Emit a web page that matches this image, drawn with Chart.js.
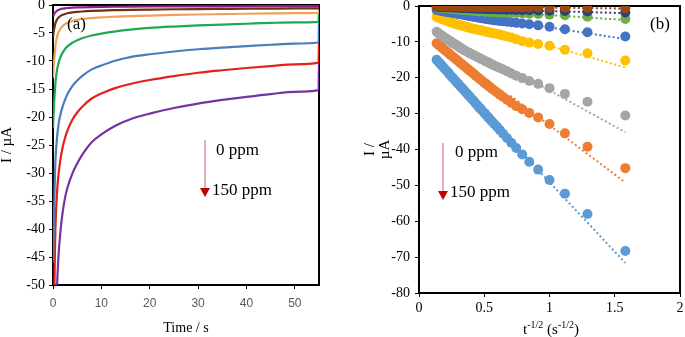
<!DOCTYPE html>
<html>
<head>
<meta charset="utf-8">
<script src="https://cdn.jsdelivr.net/npm/chart.js@4.4.1/dist/chart.umd.min.js"></script>
<style>
  html, body { margin: 0; padding: 0; background: #fff; }
  #wrap { position: relative; width: 685px; height: 337px; overflow: hidden; }
  canvas { position: absolute; top: 0; }
  #cA { left: 0; }
  #cB { left: 340px; }
</style>
</head>
<body>
<div id="wrap">
  <canvas id="cA" width="340" height="337"></canvas>
  <canvas id="cB" width="345" height="337"></canvas>
</div>
<script>
// ---- (a) corriente vs tiempo ----
const tA = [0.02, 0.1, 0.2, 0.3, 0.4, 0.5, 0.6, 0.8, 1, 1.2,
            1.5, 2, 2.5, 3, 4, 5, 6, 8, 10, 13,
            16, 20, 25, 30, 35, 40, 45, 50, 54.9, 55];
const iA_morado  = [-260, -122, -90, -76, -67, -61, -57, -51, -47, -44,
                    -40.8, -37.0, -34.4, -32.6, -30.1, -28.3, -26.8, -24.5, -23.1, -21.5,
                    -20.4, -19.4, -18.4, -17.6, -16.95, -16.4, -15.9, -15.5, -15.2, -10.3];
const iA_rojo    = [-170, -80, -60, -50, -44, -40, -37.5, -34, -31.5, -29.8,
                    -27.8, -25.4, -23.7, -22.4, -20.5, -19.2, -18.2, -16.7, -15.8, -14.8,
                    -14.1, -13.4, -12.7, -12.1, -11.65, -11.25, -10.9, -10.6, -10.3, -6.7];
const iA_azul    = [-46, -42, -38, -34, -30.5, -28, -26.3, -24, -22.3, -21,
                    -19.7, -18.1, -16.9, -15.9, -14.5, -13.5, -12.7, -11.5, -10.8, -9.9,
                    -9.3, -8.8, -8.3, -7.9, -7.6, -7.35, -7.1, -6.9, -6.7, -3.0];
const iA_verde   = [-22, -20, -18, -16.5, -15.2, -14, -13.1, -11.8, -10.9, -10.2,
                    -9.4, -8.5, -7.85, -7.4, -6.75, -6.3, -5.95, -5.45, -5.1, -4.7,
                    -4.4, -4.1, -3.85, -3.65, -3.5, -3.35, -3.2, -3.1, -3.0, -1.4];
const iA_naranja = [-13, -11.5, -10.3, -9.3, -8.3, -7.3, -6.7, -5.8, -5.2, -4.75,
                    -4.3, -3.75, -3.4, -3.15, -2.85, -2.65, -2.5, -2.33, -2.2, -2.08,
                    -1.98, -1.88, -1.78, -1.7, -1.63, -1.56, -1.5, -1.45, -1.4, -0.3];
const iA_cafe    = [-5.7, -5.0, -4.5, -4.0, -3.6, -3.25, -3.0, -2.65, -2.4, -2.2,
                    -2.0, -1.76, -1.6, -1.48, -1.33, -1.23, -1.16, -1.06, -0.99, -0.92,
                    -0.86, -0.81, -0.76, -0.72, -0.69, -0.66, -0.64, -0.62, -0.6, -0.2];
const iA_magenta = [-2.0, -1.9, -1.7, -1.5, -1.4, -1.3, -1.2, -1.05, -0.93, -0.85,
                    -0.75, -0.65, -0.59, -0.54, -0.48, -0.44, -0.41, -0.37, -0.34, -0.31,
                    -0.29, -0.27, -0.25, -0.24, -0.23, -0.22, -0.21, -0.2, -0.2, -0.05];

// ---- (b) Cottrell: I vs t^-1/2 ----
const xB = [0.135, 0.15, 0.165, 0.18, 0.195, 0.21, 0.225, 0.24, 0.255, 0.27,
            0.285, 0.30, 0.315, 0.33, 0.345, 0.36, 0.375, 0.39, 0.405, 0.42,
            0.435, 0.45, 0.465, 0.48, 0.5, 0.513, 0.527, 0.542, 0.559, 0.577,
            0.598, 0.620, 0.645, 0.674, 0.707, 0.745, 0.791, 0.845, 0.913, 1.0,
            1.118, 1.291, 1.581];
const iB_celeste = [-15.0, -15.6, -16.2, -16.8, -17.4, -18.0, -18.6, -19.3, -19.9, -20.5,
                    -21.1, -21.7, -22.3, -22.9, -23.5, -24.1, -24.7, -25.3, -25.9, -26.5,
                    -27.2, -27.8, -28.4, -29.0, -29.8, -30.3, -30.9, -31.5, -32.2, -32.9,
                    -33.7, -34.6, -35.6, -36.8, -38.1, -39.6, -41.4, -43.4, -45.6, -48.5,
                    -52.3, -58.0, -68.3];
const iB_naranja = [-10.4, -10.85, -11.3, -11.75, -12.2, -12.65, -13.1, -13.55, -14.0, -14.45,
                    -14.9, -15.35, -15.8, -16.25, -16.7, -17.15, -17.6, -18.05, -18.5, -18.95,
                    -19.4, -19.85, -20.3, -20.75, -21.35, -21.7, -22.1, -22.55, -23.05, -23.55,
                    -24.1, -24.7, -25.35, -26.1, -27.0, -27.9, -28.8, -29.8, -31.1, -32.9,
                    -35.5, -39.2, -45.2];
const iB_gris    = [-7.2, -7.6, -8.0, -8.35, -8.75, -9.1, -9.5, -9.85, -10.2, -10.55,
                    -10.9, -11.25, -11.6, -11.95, -12.3, -12.6, -12.9, -13.2, -13.45, -13.75,
                    -14.0, -14.3, -14.55, -14.85, -15.2, -15.45, -15.7, -15.95, -16.3, -16.6,
                    -16.95, -17.3, -17.7, -18.2, -18.8, -19.45, -20.1, -20.9, -21.7, -22.9,
                    -24.5, -26.7, -30.5];
const iB_oro     = [-3.0, -3.25, -3.5, -3.7, -3.9, -4.1, -4.3, -4.5, -4.7, -4.9,
                    -5.05, -5.2, -5.35, -5.5, -5.65, -5.8, -5.95, -6.1, -6.25, -6.4,
                    -6.5, -6.6, -6.75, -6.85, -7.05, -7.15, -7.25, -7.4, -7.5, -7.65,
                    -7.8, -8.0, -8.2, -8.5, -8.8, -9.3, -9.8, -10.2, -10.6, -11.1,
                    -12.2, -13.2, -15.2];
const iB_azul    = [-1.1, -1.2, -1.3, -1.4, -1.5, -1.6, -1.7, -1.8, -1.9, -2.0,
                    -2.1, -2.2, -2.3, -2.4, -2.5, -2.6, -2.7, -2.8, -2.9, -3.0,
                    -3.1, -3.2, -3.3, -3.4, -3.5, -3.6, -3.65, -3.75, -3.85, -3.95,
                    -4.05, -4.15, -4.25, -4.4, -4.55, -4.7, -4.9, -5.1, -5.4, -5.8,
                    -6.5, -7.3, -8.5];
const iB_verde   = [-0.4, -0.45, -0.5, -0.55, -0.6, -0.65, -0.7, -0.75, -0.8, -0.85,
                    -0.9, -0.95, -1.0, -1.05, -1.1, -1.15, -1.2, -1.25, -1.3, -1.33,
                    -1.36, -1.4, -1.43, -1.46, -1.5, -1.53, -1.56, -1.6, -1.63, -1.67,
                    -1.71, -1.75, -1.8, -1.85, -1.9, -1.97, -2.05, -2.15, -2.25, -2.4,
                    -2.6, -3.0, -3.6];
const iB_marino  = [-0.2, -0.22, -0.25, -0.28, -0.3, -0.33, -0.35, -0.38, -0.4, -0.43,
                    -0.45, -0.48, -0.5, -0.53, -0.55, -0.58, -0.6, -0.63, -0.65, -0.68,
                    -0.7, -0.72, -0.75, -0.77, -0.8, -0.82, -0.84, -0.86, -0.88, -0.9,
                    -0.93, -0.96, -1.0, -1.03, -1.07, -1.1, -1.15, -1.2, -1.25, -1.3,
                    -1.4, -1.55, -1.8];
const iB_cafe    = [-0.05, -0.05, -0.06, -0.07, -0.08, -0.09, -0.1, -0.1, -0.11, -0.12,
                    -0.13, -0.14, -0.15, -0.16, -0.17, -0.18, -0.19, -0.2, -0.2, -0.21,
                    -0.22, -0.23, -0.24, -0.25, -0.26, -0.27, -0.28, -0.28, -0.29, -0.3,
                    -0.31, -0.32, -0.33, -0.34, -0.35, -0.36, -0.38, -0.4, -0.42, -0.45,
                    -0.48, -0.53, -0.6];
// rectas de ajuste (punteadas): x inicial y final, I inicial y final
const xAjuste = [0.7, 1.581];
const ajuste_celeste = [-37.5, -71.6];
const ajuste_naranja = [-25.0, -49.2];
const ajuste_gris    = [-17.5, -35.2];
const ajuste_oro     = [-8.0, -17.1];
const ajuste_azul    = [-4.3, -9.2];
const ajuste_verde   = [-1.8, -3.9];
const ajuste_marino  = [-1.1, -2.0];
const ajuste_cafe    = [-0.3, -0.7];

const serif = "'Liberation Serif', 'DejaVu Serif', serif";

function puntos(xs, ys) {
  return xs.map((x, i) => ({ x: x, y: ys[i] }));
}

// marco negro alrededor del area de datos (debajo de las series)
const marco = {
  id: 'marco',
  beforeDatasetsDraw(chart) {
    const { ctx, chartArea: a } = chart;
    ctx.save();
    ctx.strokeStyle = '#000';
    ctx.lineWidth = 2;
    ctx.strokeRect(a.left, a.top, a.right - a.left, a.bottom - a.top);
    ctx.restore();
  }
};

function flecha(ctx, x, yTop, yTip) {
  ctx.save();
  ctx.strokeStyle = '#E39AA2';
  ctx.lineWidth = 1.6;
  ctx.beginPath();
  ctx.moveTo(x, yTop);
  ctx.lineTo(x, yTip - 7);
  ctx.stroke();
  ctx.fillStyle = '#C00000';
  ctx.beginPath();
  ctx.moveTo(x - 5, yTip - 9);
  ctx.lineTo(x + 5, yTip - 9);
  ctx.lineTo(x, yTip);
  ctx.closePath();
  ctx.fill();
  ctx.restore();
}

function texto(ctx, s, x, y, size) {
  ctx.save();
  ctx.fillStyle = '#000';
  ctx.font = size + 'px ' + serif;
  ctx.textAlign = 'left';
  ctx.textBaseline = 'middle';
  ctx.fillText(s, x, y);
  ctx.restore();
}

const notasA = {
  id: 'notasA',
  afterDraw(chart) {
    const ctx = chart.ctx;
    texto(ctx, '(a)', 67, 25, 17);
    flecha(ctx, 205, 140, 197);
    texto(ctx, '0 ppm', 216, 151, 17);
    texto(ctx, '150 ppm', 212, 191, 17);
  }
};

const notasB = {
  id: 'notasB',
  afterDraw(chart) {
    const ctx = chart.ctx;
    texto(ctx, '(b)', 310, 25, 17);
    flecha(ctx, 103, 143, 200);
    texto(ctx, '0 ppm', 115, 153, 17);
    texto(ctx, '150 ppm', 110, 193, 17);
    // titulo eje x con superindices
    const partes = [['t', 15, 0], ['-1/2', 10, -6], [' (s', 15, 0], ['-1/2', 10, -6], [')', 15, 0]];
    ctx.save();
    ctx.fillStyle = '#000';
    ctx.textBaseline = 'alphabetic';
    let total = 0;
    partes.forEach(p => { ctx.font = p[1] + 'px ' + serif; total += ctx.measureText(p[0]).width; });
    let x = 211 - total / 2;
    partes.forEach(p => {
      ctx.font = p[1] + 'px ' + serif;
      ctx.fillText(p[0], x, 334 + p[2]);
      x += ctx.measureText(p[0]).width;
    });
    ctx.restore();
  }
};

function fijarEje(ancho, alto) {
  return function (scale) {
    if (ancho !== null) scale.width = ancho;
    if (alto !== null) scale.height = alto;
    scale.paddingTop = 0;
    scale.paddingBottom = 0;
    scale.paddingLeft = 0;
    scale.paddingRight = 0;
  };
}

// ---------------- grafica (a) ----------------
function linea(ys, color) {
  return {
    data: puntos(tA, ys),
    borderColor: color,
    borderWidth: 2.2,
    pointRadius: 0,
    cubicInterpolationMode: 'monotone',
    fill: false
  };
}

new Chart(document.getElementById('cA'), {
  type: 'line',
  data: {
    datasets: [
      linea(iA_magenta, '#8E1F8C'),
      linea(iA_cafe, '#6B3413'),
      linea(iA_naranja, '#F0A05A'),
      linea(iA_verde, '#1FAA52'),
      linea(iA_azul, '#4A7EBB'),
      linea(iA_rojo, '#E3201B'),
      linea(iA_morado, '#7433A3')
    ]
  },
  options: {
    responsive: false,
    animation: false,
    devicePixelRatio: 1,
    layout: { padding: { left: 0, top: 5, right: 21, bottom: 0 } },
    plugins: { legend: { display: false }, tooltip: { enabled: false } },
    scales: {
      x: {
        type: 'linear',
        min: 0, max: 55,
        afterFit: fijarEje(null, 52),
        border: { display: false },
        grid: { drawOnChartArea: false, drawTicks: true, tickLength: 4, color: '#000' },
        ticks: { stepSize: 10, includeBounds: false, padding: 7, color: '#595959',
                 font: { family: "'Liberation Sans', Arial, sans-serif", size: 12 } },
        title: { display: true, text: 'Time / s', color: '#000', padding: 0,
                 font: { family: serif, size: 14 } }
      },
      y: {
        min: -50, max: 0,
        afterFit: fijarEje(53, null),
        border: { display: false },
        grid: { drawOnChartArea: false, drawTicks: true, tickLength: 4, color: '#000' },
        ticks: { stepSize: 5, padding: 4, color: '#000', font: { family: serif, size: 14 } },
        title: { display: true, text: 'I / µA', color: '#000', padding: 0,
                 font: { family: serif, size: 15, lineHeight: 1 } }
      }
    }
  },
  plugins: [marco, notasA]
});

// ---------------- grafica (b) ----------------
function nube(ys, color) {
  return {
    type: 'scatter',
    data: puntos(xB, ys),
    backgroundColor: color,
    borderColor: color,
    borderWidth: 0,
    pointRadius: 5,
    showLine: false
  };
}
function ajuste(ys, color) {
  return {
    type: 'scatter',
    data: puntos(xAjuste, ys),
    borderColor: color,
    borderWidth: 2,
    borderDash: [2, 2.5],
    pointRadius: 0,
    showLine: true
  };
}

new Chart(document.getElementById('cB'), {
  type: 'scatter',
  data: {
    datasets: [
      nube(iB_cafe, '#9E480E'),
      nube(iB_marino, '#264478'),
      nube(iB_verde, '#70AD47'),
      nube(iB_azul, '#4472C4'),
      nube(iB_oro, '#FFC000'),
      nube(iB_gris, '#A5A5A5'),
      nube(iB_naranja, '#ED7D31'),
      nube(iB_celeste, '#5B9BD5'),
      ajuste(ajuste_cafe, '#9E480E'),
      ajuste(ajuste_marino, '#264478'),
      ajuste(ajuste_verde, '#70AD47'),
      ajuste(ajuste_azul, '#4472C4'),
      ajuste(ajuste_oro, '#FFC000'),
      ajuste(ajuste_gris, '#A5A5A5'),
      ajuste(ajuste_naranja, '#ED7D31'),
      ajuste(ajuste_celeste, '#5B9BD5')
    ]
  },
  options: {
    responsive: false,
    animation: false,
    devicePixelRatio: 1,
    layout: { padding: { left: 23, top: 6, right: 3, bottom: 0 } },
    plugins: { legend: { display: false }, tooltip: { enabled: false } },
    scales: {
      x: {
        type: 'linear',
        min: 0, max: 2,
        afterFit: fijarEje(null, 44),
        border: { display: false },
        grid: { drawOnChartArea: false, drawTicks: true, tickLength: 4, color: '#000' },
        ticks: { stepSize: 0.5, padding: 3, color: '#000', font: { family: serif, size: 14 },
                 callback: v => String(v) }
      },
      y: {
        min: -80, max: 0,
        afterFit: fijarEje(56, null),
        border: { display: false },
        grid: { drawOnChartArea: false, drawTicks: true, tickLength: 4, color: '#000' },
        ticks: { stepSize: 10, padding: 5, color: '#000', font: { family: serif, size: 14 } },
        title: { display: true, text: ['I /', 'µA'], color: '#000', padding: 0,
                 font: { family: serif, size: 15, lineHeight: 1 } }
      }
    }
  },
  plugins: [marco, notasB]
});
</script>
</body>
</html>
